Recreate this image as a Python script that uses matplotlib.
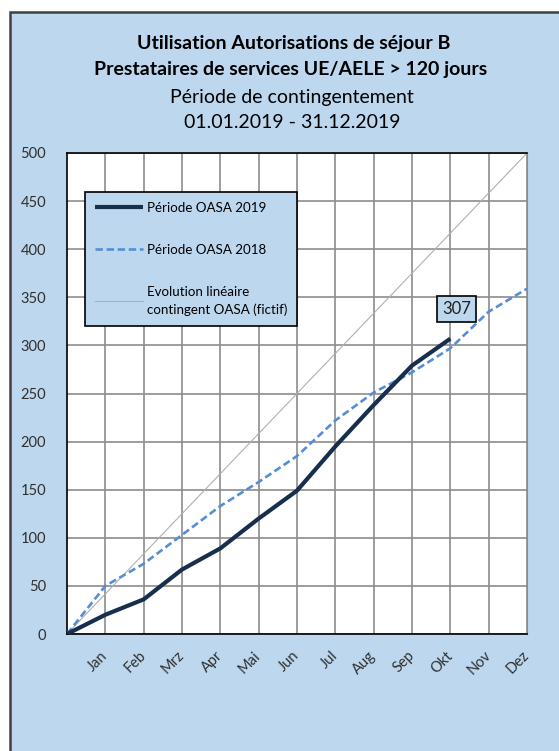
import matplotlib.pyplot as plt
import matplotlib.patches as mpatches
import numpy as np

# ---------------- Data ----------------
months = ['Jan', 'Feb', 'Mrz', 'Apr', 'Mai', 'Jun', 'Jul', 'Aug', 'Sep', 'Okt', 'Nov', 'Dez']
oasa_2019 = [0, 20, 36, 67, 89, 120, 149, 195, 238, 279, 307]
oasa_2018 = [0, 50, 73, 103, 133, 158, 185, 222, 251, 272, 297, 335, 359]
contingent_total = 500

bg = '#BDD7EE'
plt.rcParams['font.family'] = ['Lato', 'DejaVu Sans']

fig = plt.figure(figsize=(5.59, 7.51), dpi=100)
fig.patch.set_facecolor('white')

# outer frame of the chart (left/top border visible, the rest runs off the image)
frame = mpatches.Rectangle((10 / 559, -0.05), 1.2, 1 - 12 / 751 + 0.05, transform=fig.transFigure,
                           facecolor=bg, edgecolor='#404040', linewidth=1.8, zorder=-10)
fig.patches.append(frame)

ax = fig.add_axes([67 / 559, 117 / 751, 460 / 559, 481 / 751])
ax.set_facecolor('white')

x19 = np.arange(len(oasa_2019))
x18 = np.arange(len(oasa_2018))
x_lin = np.array([0, len(months)])
y_lin = np.array([0, contingent_total])

ax.plot(x19, oasa_2019, color='#172E4D', linewidth=3, solid_capstyle='butt', zorder=4,
        label='Période OASA 2019')
ax.plot(x18, oasa_2018, color='#558ED5', linewidth=1.9, linestyle=(0, (2.8, 1.4)), zorder=3,
        label='Période OASA 2018')
ax.plot(x_lin, y_lin, color='#B0B0B0', linewidth=0.8, zorder=2,
        label='Evolution linéaire\ncontingent OASA (fictif)')

# data label on last 2019 point
ax.annotate(str(oasa_2019[-1]), xy=(x19[-1], oasa_2019[-1]), xytext=(6, 30),
            textcoords='offset pixels', ha='center', va='center', fontsize=12, color='#202020',
            bbox=dict(boxstyle='square,pad=0.3', facecolor=bg, edgecolor='black', linewidth=1.2),
            zorder=6)

ax.set_xlim(0, len(months))
ax.set_ylim(0, 500)
ax.set_yticks(np.arange(0, 501, 50))
ax.set_xticks(np.arange(1, len(months) + 1))
ax.set_xticklabels(months, rotation=45, ha='right', va='center', rotation_mode='anchor')
ax.tick_params(axis='both', length=0, labelsize=10.5, colors='#303030')
ax.tick_params(axis='y', pad=15)
ax.tick_params(axis='x', pad=14)

ax.grid(True, color='#8C8C8C', linewidth=1.2)
ax.set_axisbelow(True)
for side in ['left', 'bottom', 'top']:
    ax.spines[side].set_color('black')
    ax.spines[side].set_linewidth(1.2)
ax.spines['right'].set_color('#8C8C8C')

leg = ax.legend(loc='upper left', bbox_to_anchor=(0.039, 0.919), borderaxespad=0,
                fontsize=9.6, frameon=True, fancybox=False, facecolor=bg, edgecolor='black',
                framealpha=1, handlelength=3.6, handletextpad=0.3, labelspacing=2.25,
                borderpad=0.75)
leg.get_frame().set_linewidth(1.2)
for t in leg.get_texts():
    t.set_linespacing(1.5)

# title block
fig.text(0.525, 1 - 43 / 751, 'Utilisation Autorisations de séjour B', ha='center', va='center',
         fontsize=14, fontweight='bold', color='black')
fig.text(0.52, 1 - 70 / 751, 'Prestataires de services UE/AELE > 120 jours', ha='center', va='center',
         fontsize=14, fontweight='bold', color='black')
fig.text(0.523, 1 - 97 / 751, 'Période de contingentement', ha='center', va='center',
         fontsize=14, color='black')
fig.text(0.523, 1 - 123 / 751, '01.01.2019 - 31.12.2019', ha='center', va='center',
         fontsize=14, color='black')

plt.savefig('out.png', dpi=100)
